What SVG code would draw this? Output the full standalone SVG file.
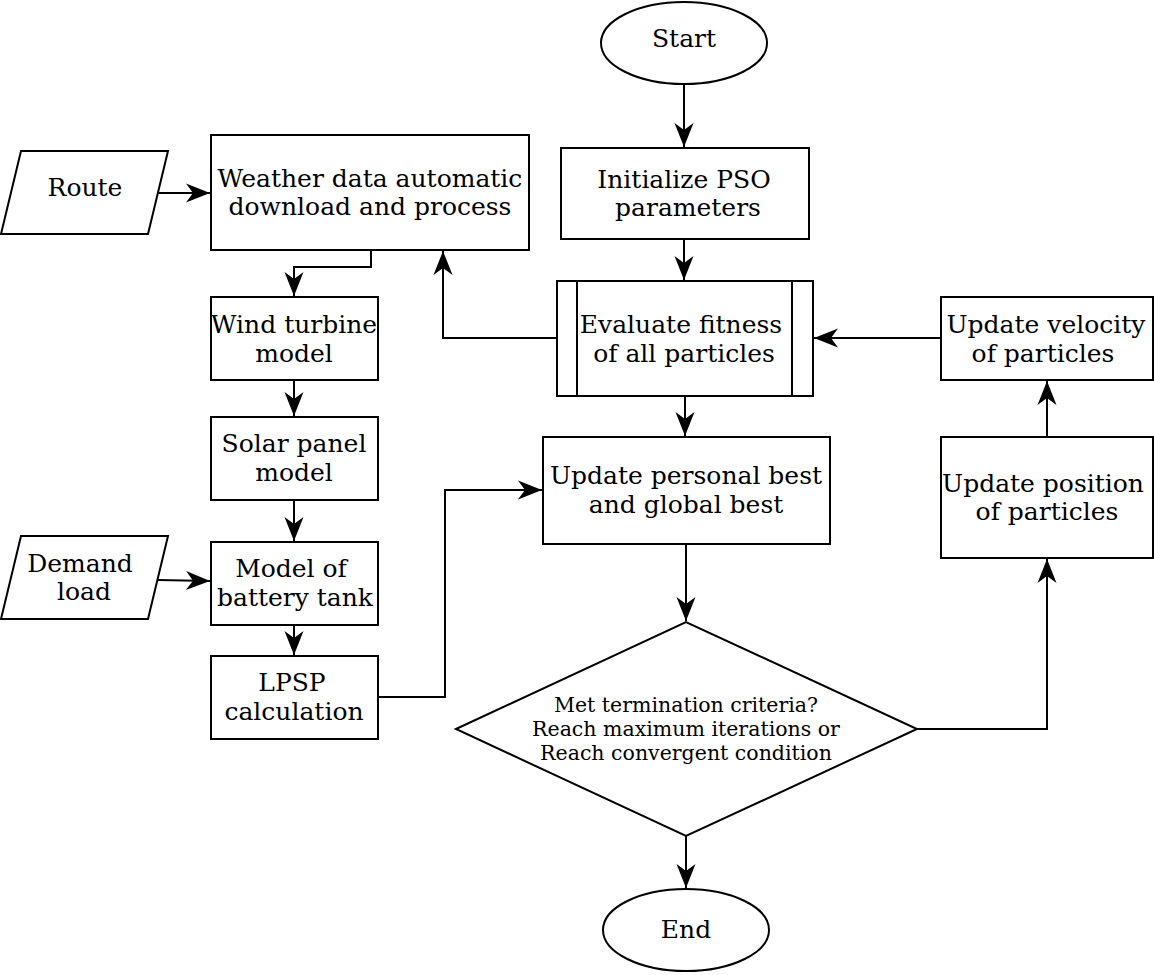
<svg xmlns="http://www.w3.org/2000/svg" width="1154" height="975" viewBox="0 0 1154 975">
<style>
.s{fill:#fff;stroke:#000;stroke-width:2}
.c{fill:none;stroke:#000;stroke-width:2}
text{font-family:"DejaVu Serif","Liberation Serif",serif;font-size:25px;fill:#000;text-anchor:middle}
.sm{font-size:20.5px}
</style>
<defs>
<marker id="a" markerUnits="userSpaceOnUse" markerWidth="30" markerHeight="24" viewBox="-25 -12 30 24" refX="0" refY="0" orient="auto">
<path d="M0,0 L-24,-9.5 L-17,0 L-24,9.5 Z" fill="#000"/>
</marker>
</defs>
<rect width="1154" height="975" fill="#fff"/>
<g id="connectors" class="c" marker-end="url(#a)">
<path d="M684,84 V147"/>
<path d="M684,239 V280"/>
<path d="M685,396 V436"/>
<path d="M686,544 V621"/>
<path d="M686,836 V888"/>
<path d="M917,729 H1047 V559"/>
<path d="M1047,437 V381"/>
<path d="M941,338 H814"/>
<path d="M557,338 H443 V251"/>
<path d="M158,193 H210"/>
<path d="M371,250 V267 H294 V296"/>
<path d="M294,380 V416"/>
<path d="M294,500 V541"/>
<path d="M158,580 L210,581"/>
<path d="M294,625 V655"/>
<path d="M378,697 H445 V490 H542"/>
</g>
<g id="start"><ellipse class="s" cx="684" cy="43" rx="83" ry="41"/><text x="684" y="47">Start</text></g>
<g id="init"><rect class="s" x="561" y="148" width="248" height="91"/><text x="684" y="188">Initialize PSO</text><text x="688" y="216">parameters</text></g>
<g id="evaluate"><rect class="s" x="557" y="281" width="256" height="115"/><path class="c" d="M577,281 V396 M792,281 V396"/><text x="681" y="333">Evaluate fitness</text><text x="684" y="362">of all particles</text></g>
<g id="update-best"><rect class="s" x="543" y="437" width="287" height="107"/><text x="686" y="484">Update personal best</text><text x="686" y="513">and global best</text></g>
<g id="decision"><polygon class="s" points="456,729 686,622 917,729 686,836"/><text class="sm" x="686" y="712">Met termination criteria?</text><text class="sm" x="686" y="736">Reach maximum iterations or</text><text class="sm" x="686" y="760">Reach convergent condition</text></g>
<g id="end"><ellipse class="s" cx="686" cy="930" rx="83" ry="41"/><text x="686" y="938">End</text></g>
<g id="velocity"><rect class="s" x="941" y="297" width="212" height="83"/><text x="1046" y="333">Update velocity</text><text x="1043" y="362">of particles</text></g>
<g id="position"><rect class="s" x="941" y="437" width="212" height="121"/><text x="1043" y="492">Update position</text><text x="1047" y="520">of particles</text></g>
<g id="route"><polygon class="s" points="1,234 21,151 168,151 148,234"/><text x="85" y="196">Route</text></g>
<g id="weather"><rect class="s" x="211" y="135" width="318" height="115"/><text x="370" y="187">Weather data automatic</text><text x="370" y="215">download and process</text></g>
<g id="wind"><rect class="s" x="211" y="297" width="167" height="83"/><text x="294" y="333">Wind turbine</text><text x="294" y="362">model</text></g>
<g id="solar"><rect class="s" x="211" y="417" width="167" height="83"/><text x="294" y="452">Solar panel</text><text x="294" y="481">model</text></g>
<g id="demand"><polygon class="s" points="1,619 21,536 168,536 148,619"/><text x="80" y="572">Demand</text><text x="84" y="600">load</text></g>
<g id="battery"><rect class="s" x="211" y="542" width="167" height="83"/><text x="291" y="577">Model of</text><text x="295" y="606">battery tank</text></g>
<g id="lpsp"><rect class="s" x="211" y="656" width="167" height="83"/><text x="292" y="691">LPSP</text><text x="294" y="720">calculation</text></g>
</svg>
